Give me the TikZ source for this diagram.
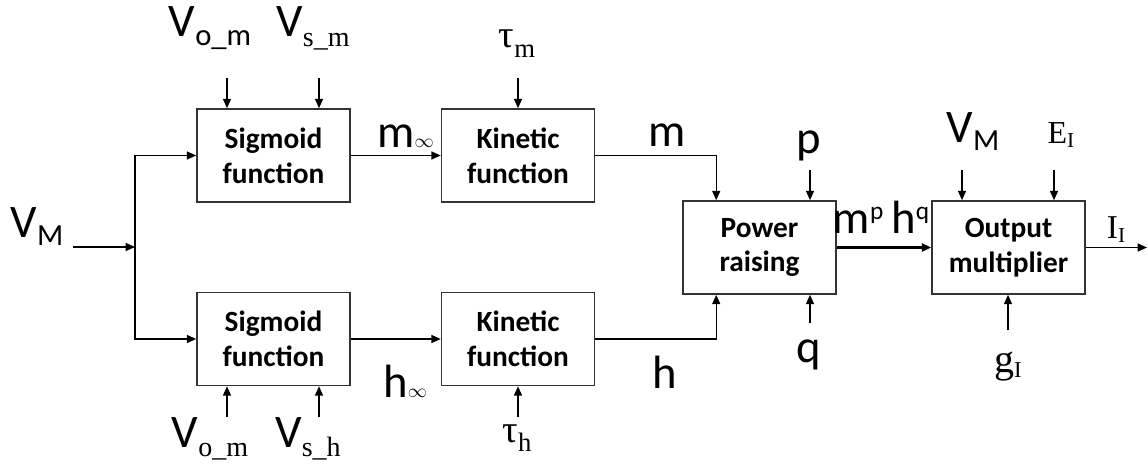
\documentclass[tikz,border=0pt]{standalone}
\usepackage{fontspec}
\setmainfont{Carlito}
\newfontfamily\serf{Liberation Serif}
\usetikzlibrary{positioning,arrows.meta}

% label sizes
\newcommand{\mainsz}{\fontsize{35}{40}\selectfont}
\newcommand{\sbsf}[1]{\raisebox{-6pt}{\fontsize{23}{26}\selectfont #1}}
\newcommand{\sbsr}[1]{\raisebox{-7pt}{\fontsize{21}{24}\selectfont\serf #1}}
\newcommand{\spsf}[1]{\raisebox{10pt}{\fontsize{19}{22}\selectfont #1}}
\newcommand{\infsub}{\fontsize{15}{18}\selectfont$\infty$}

\tikzset{
  block/.style={draw=black!80, line width=1.2pt, minimum width=114.75pt,
    minimum height=69.75pt, inner sep=0pt, align=center,
    font=\fontsize{22}{26}\selectfont\bfseries},
  arr/.style={-{Triangle[length=7pt,width=6pt]}, line width=1pt},
  lbl/.style={anchor=base, inner sep=0pt, font=\mainsz}
}

\begin{document}
\begin{tikzpicture}[x=0.75pt, y=-0.75pt]
  \useasboundingbox (0,0) rectangle (1148,467);

  % blocks
  \node[block] (sigm) at (273.5,155.5) {Sigmoid\\function};
  \node[block] (sigh) at (273.5,339)   {Sigmoid\\function};
  \node[block] (kinm) at (518,155.5)   {Kinetic\\function};
  \node[block] (kinh) at (518,339)     {Kinetic\\function};
  \node[block] (pow)  at (759.5,247.5) {Power\\raising};
  \node[block] (outm) at (1008.5,247.5) {Output\\multiplier};

  % labels
  \node[lbl] (vml)  at (37,237)  {V\sbsf{M}};
  \node[lbl] (vomt) at (210,37)  {V\sbsf{o\_m}};
  \node[lbl] (vsmt) at (313,37)  {V\sbsr{s\_m}};
  \node[lbl] (taum) at (517,48)  {\fontsize{29}{32}\selectfont\serf τ\raisebox{-7pt}{\fontsize{20}{22}\selectfont m}};
  \node[lbl] (vomb) at (210,447) {V\sbsr{o\_m}};
  \node[lbl] (vshb) at (308,447) {V\sbsr{s\_h}};
  \node[lbl] (tauh) at (517,442) {\fontsize{29}{32}\selectfont\serf τ\raisebox{-7pt}{\fontsize{20}{22}\selectfont h}};
  \node[lbl, anchor=base west] (minf) at (377,147) {m\infsub};
  \node[lbl, anchor=base west] (hinf) at (383,397) {h\infsub};
  \node[lbl] (ml)   at (667,146)  {m};
  \node[lbl] (hl)   at (665,388)  {h};
  \node[lbl] (pl)   at (809,153)  {p};
  \node[lbl] (ql)   at (809,362)  {q};
  \node[lbl] (mphq) at (881,233)  {m\spsf{p}\,h\spsf{q}};
  \node[lbl] (vmr)  at (973,142)  {V\sbsf{M}};
  \node[lbl] (eil)  at (1061,143) {\fontsize{24}{26}\selectfont\serf E\raisebox{-3pt}{\fontsize{16}{18}\selectfont I}};
  \node[lbl] (gil)  at (1008,372) {\fontsize{30}{32}\selectfont\serf g\raisebox{-4pt}{\fontsize{17}{18}\selectfont I}};
  \node[lbl] (iil)  at (1116,238) {\fontsize{25}{28}\selectfont\serf I\raisebox{-3pt}{\fontsize{16}{18}\selectfont I}};

  % main path
  \coordinate (vmin) at (73,247);
  \coordinate (split) at (135,247);
  \coordinate (iout) at (1147,247.5);
  \draw[arr] (vmin) -- (split);
  \draw[arr] (split) |- (sigm.west);
  \draw[arr] (split) |- (sigh.west);
  \draw[arr] (sigm) -- (kinm);
  \draw[arr] (sigh) -- (kinh);
  \draw[arr] (kinm.east) -| ([xshift=25.5pt]pow.north west);
  \draw[arr] (kinh.east) -| ([xshift=25.5pt]pow.south west);
  \draw[arr, line width=1.8pt] (pow) -- (outm);
  \draw[arr] (outm.east) -- (iout);

  % parameter inputs
  \foreach \x/\y/\b in {227/78/sigm, 319/78/sigm, 518/78/kinm, 810/170/pow, 962/170/outm, 1054/170/outm} {
    \coordinate (in) at (\x,\y);
    \draw[arr] (in) -- (in |- \b.north);
  }
  \foreach \x/\y/\b in {227/417/sigh, 319/417/sigh, 518/417/kinh, 810/323/pow, 1008/330/outm} {
    \coordinate (in) at (\x,\y);
    \draw[arr] (in) -- (in |- \b.south);
  }
\end{tikzpicture}
\end{document}
